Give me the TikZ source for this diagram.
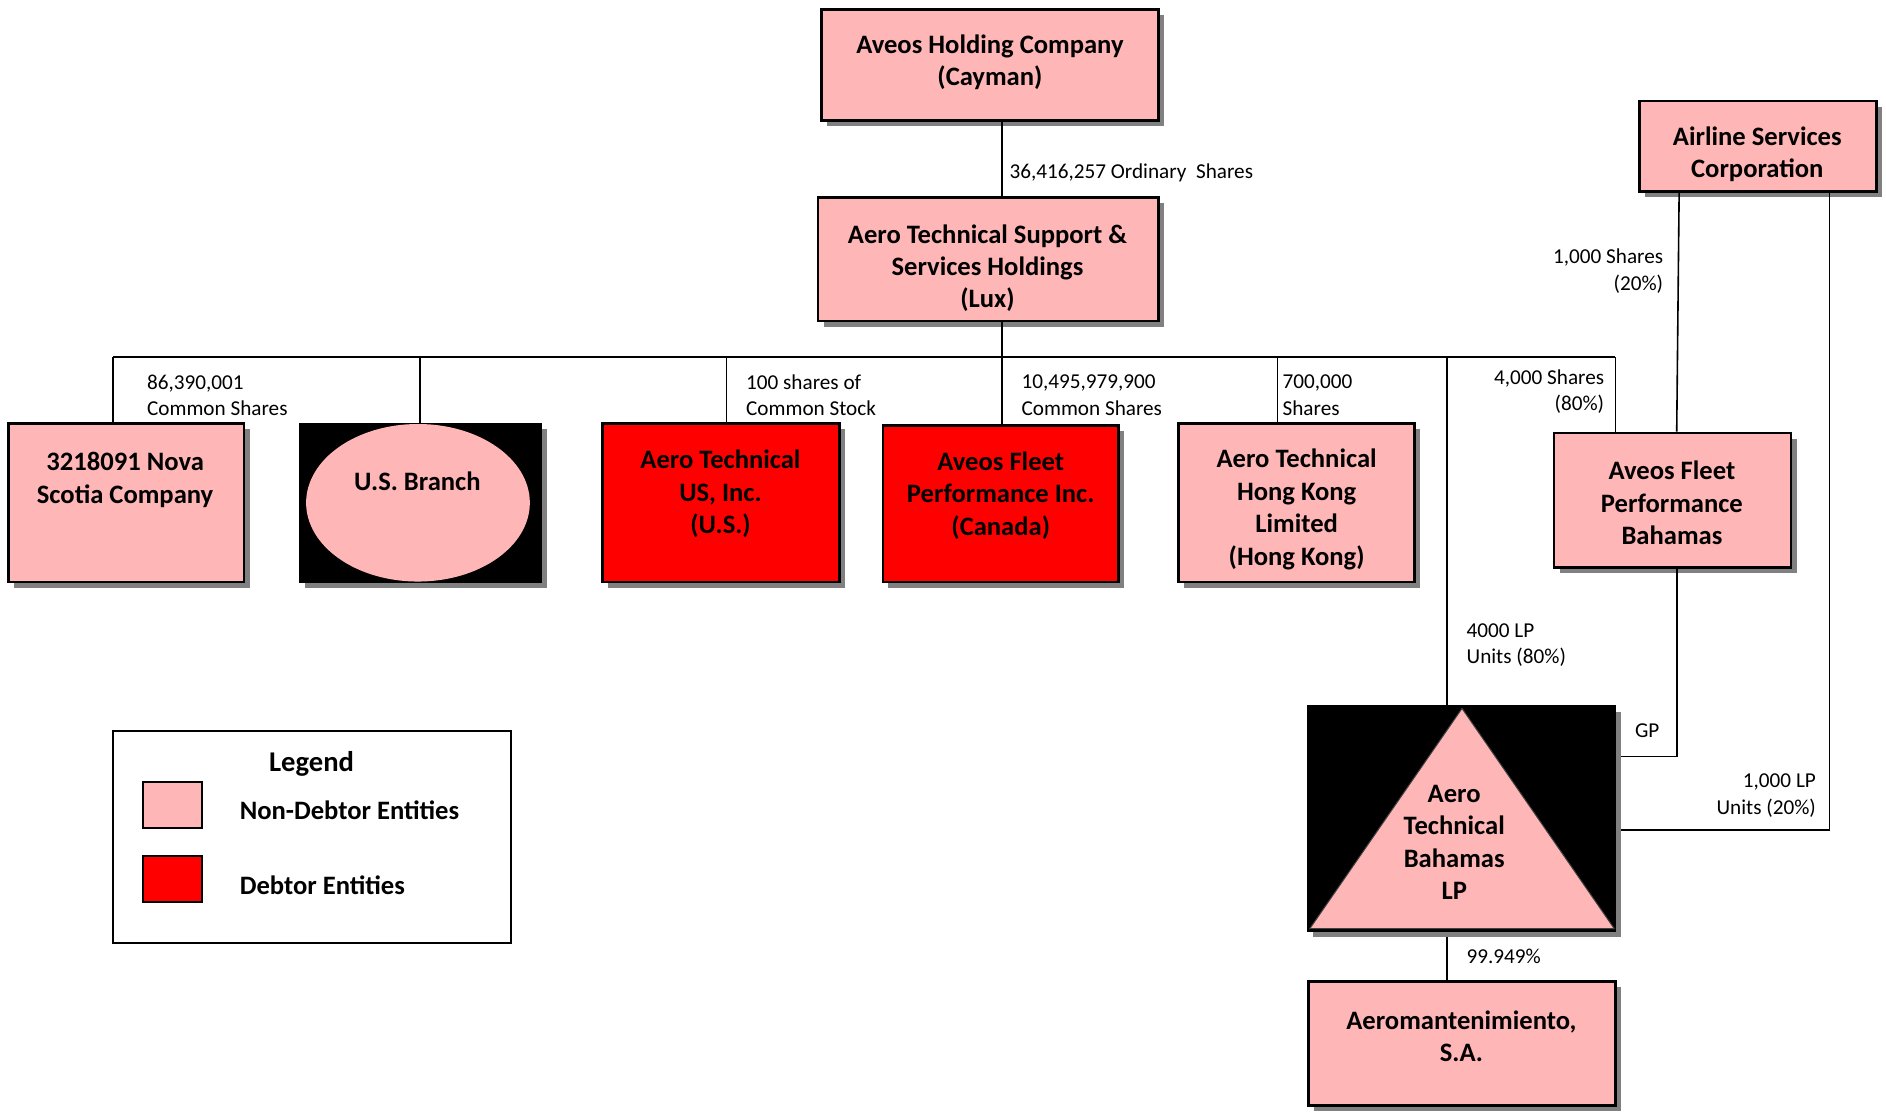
\documentclass[tikz,border=0pt]{standalone}
\usepackage{fontspec}
\setmainfont{Carlito}
\usetikzlibrary{shadows,shapes.geometric}
\definecolor{pinkf}{RGB}{255,182,182}
\definecolor{redf}{RGB}{255,0,0}
\tikzset{
  sz/.style 2 args={minimum width={#1*0.6014pt}, minimum height={#2*0.6014pt}},
  shad/.style={drop shadow={shadow xshift=2.8pt, shadow yshift=-2.8pt, fill=black!50, opacity=1}},
  ent/.style={draw=black, line width=1.3pt, inner sep=0pt, shad},
  nondebt/.style={ent, fill=pinkf},
  debt/.style={ent, fill=redf},
  blackbox/.style={fill=black, draw=black, line width=0.8pt, inner sep=0pt, shad},
  btxt/.style={font=\fontsize{13.3}{16.2}\selectfont\bfseries, align=center, inner sep=0pt, yshift=-1.2pt},
  lbl/.style={font=\fontsize{10.6}{13.2}\selectfont, inner sep=0pt, yshift=-0.9pt},
  lbll/.style={lbl, anchor=west, align=left},
  lblr/.style={lbl, anchor=east, align=right},
  conn/.style={line width=0.8pt, draw=black},
}
\begin{document}
\begin{tikzpicture}[x=0.6014pt, y=-0.6014pt]
\useasboundingbox (0,0) rectangle (1568,924.5);

% bus tap coordinates
\coordinate (b0) at (833,297);
\coordinate (t1) at (94,297);
\coordinate (t2) at (349,297);
\coordinate (t3) at (604,297);
\coordinate (t5) at (1062,297);
\coordinate (t6) at (1203,297);
\coordinate (t7) at (1343,297);
\coordinate (a1) at (1396,0);
\coordinate (a2) at (1521,0);
\coordinate (g1) at (1394,629);
\coordinate (r1) at (1521,690);
\coordinate (gend) at (1345,629);
\coordinate (rend) at (1345,690);

% boxes drawn before connectors
\node[nondebt, sz={280}{92}] (hold) at (823,54) {};
\node[nondebt, sz={283}{103}] (lux) at (821.5,215.5) {};
\node[nondebt, sz={197}{75}] (airline) at (1461.5,121.5) {};
\node[nondebt, sz={197}{112}] (bahamas) at (1390.5,416) {};

\draw[conn] (hold.south -| b0) -- (lux.north -| b0);
\draw[conn] (lux.south -| b0) -- (b0);
\draw[conn] (t1) -- (t7);
\draw[conn] (t1) -- ([yshift=-3.6pt]t1 |- 0,352);
\draw[conn] (t2) -- (t2 |- 0,352);
\draw[conn] (t3) -- (t3 |- 0,352);
\draw[conn] (b0) -- (b0 |- 0,354);
\draw[conn] (t5) -- (t5 |- 0,352);
\draw[conn] (t6) -- (t6 |- 0,587);
\draw[conn] (t7) -- (t7 |- bahamas.north);
\draw[conn] (a1 |- airline.south) -- ([xshift=2.1pt]bahamas.north);
\draw[conn] (a2 |- airline.south) -- (r1) -- (rend);
\draw[conn] (g1 |- bahamas.south) -- (g1) -- (gend);
\draw[conn] (t6 |- 0,774) -- (t6 |- 0,816);

% entity boxes
\node[nondebt, sz={196}{132}] (nova) at (105,418) {};
\node[blackbox, sz={201}{132}] (usbbox) at (349.5,418) {};
\node[ellipse, fill=pinkf, inner sep=0pt, sz={186}{131}] (usb) at (347.5,418) {};
\node[debt, sz={197}{132}] (ustech) at (599.5,418) {};
\node[debt, sz={196}{130}] (canada) at (832,419) {};
\node[nondebt, sz={196}{132}] (hk) at (1078,418) {};
\node[blackbox, sz={256}{187}] (tribox) at (1215,680.5) {};
\fill[pinkf, draw=black!75, line width=0.5pt] (1215.5,589) -- (1342,772) -- (1089,772) -- cycle;
\node[nondebt, sz={255}{103}] (aero) at (1215.5,867.5) {};

% entity texts
\node[btxt] at (823,50) {Aveos Holding Company\\(Cayman)};
\node[btxt] at (821,221) {Aero Technical Support \&\\Services Holdings\\(Lux)};
\node[btxt] at (104,397) {3218091 Nova\\Scotia Company};
\node[btxt] at (347,398) {U.S. Branch};
\node[btxt] at (599,408.5) {Aero Technical\\US, Inc.\\(U.S.)};
\node[btxt] at (832,410) {Aveos Fleet\\Performance Inc.\\(Canada)};
\node[btxt] at (1078,421.5) {Aero Technical\\Hong Kong\\Limited\\(Hong Kong)};
\node[btxt] at (1390,416) {Aveos Fleet\\Performance\\Bahamas};
\node[btxt] at (1461,126.5) {Airline Services\\Corporation};
\node[btxt] at (1209,698.5) {Aero\\Technical\\Bahamas\\LP};
\node[btxt] at (1215,859.5) {Aeromantenimiento,\\S.A.};

% connector labels
\node[lbll] at (839,142) {36,416,257 Ordinary~ Shares};
\node[lbll] at (122,327) {86,390,001\\Common Shares};
\node[lbll] at (620,327) {100 shares of\\Common Stock};
\node[lbll] at (849,327) {10,495,979,900\\Common Shares};
\node[lbll] at (1066,327) {700,000\\Shares};
\node[lblr] at (1334,324) {4,000 Shares\\(80\%)};
\node[lblr] at (1383,224) {1,000 Shares\\(20\%)};
\node[lbll] at (1219,535) {4000 LP\\Units (80\%)};
\node[lbll] at (1359,606) {GP};
\node[lblr] at (1510,660) {1,000 LP\\Units (20\%)};
\node[lbll] at (1219,794) {99.949\%};

% legend
\node[draw=black, line width=1.1pt, sz={331}{176}, inner sep=0pt] (legend) at (259.5,696) {};
\node[btxt, font=\fontsize{14.3}{17}\selectfont\bfseries] (legtitle) at (259,633) {Legend};
\node[draw=black, line width=1pt, fill=pinkf, sz={49}{38}, inner sep=0pt] (swp) at (143.5,669) {};
\node[draw=black, line width=1pt, fill=redf, sz={49}{38}, inner sep=0pt] (swr) at (143.5,731) {};
\node[btxt, anchor=west] (legp) at (199,672) {Non-Debtor Entities};
\node[btxt, anchor=west] (legr) at (199,734) {Debtor Entities};
\end{tikzpicture}
\end{document}
